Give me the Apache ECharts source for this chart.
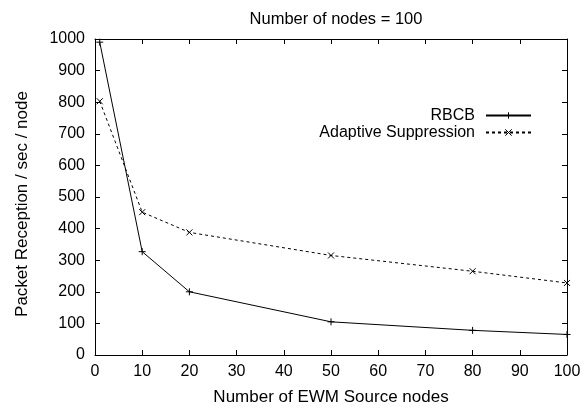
<!DOCTYPE html>
<html><head><meta charset="utf-8">
<script src="https://cdn.jsdelivr.net/npm/echarts@6/dist/echarts.min.js"></script>
<style>html,body{margin:0;padding:0;background:#fff}#c{width:584px;height:408px}</style>
</head><body><div id="c"></div>
<script>
const xValues = [1, 10, 20, 50, 80, 100];
const rbcb = [990, 327, 200, 105, 78, 65];
const adaptive = [803, 452, 388, 315, 265, 228];
const seriesNames = ['RBCB', 'Adaptive Suppression'];
const titleText = 'Number of nodes = 100';
const xName = 'Number of EWM Source nodes';
const yName = 'Packet Reception / sec / node';

const font = 'Liberation Sans, Arial, sans-serif';
const plus = 'path://M0,5L10,5M5,0L5,10';
const cross = 'path://M0,0L10,10M10,0L0,10';
const chart = echarts.init(document.getElementById('c'));
const axisCommon = {
  axisLine: {show: true, onZero: false, lineStyle: {color: '#000', width: 1}},
  axisTick: {show: true, inside: true, length: 5, lineStyle: {color: '#000'}},
  splitLine: {show: false}
};
chart.setOption({
  animation: false,
  title: {text: titleText, left: 331, top: 6, textAlign: 'center',
    textStyle: {fontFamily: font, fontSize: 16.5, fontWeight: 'normal', color: '#000'}},
  grid: {left: 95, right: 17, top: 39, bottom: 53, containLabel: false, outerBoundsMode: 'none'},
  legend: {
    orient: 'vertical', right: 52, top: 107, align: 'right', itemGap: 0, padding: 0,
    itemWidth: 45, itemHeight: 8,
    itemStyle: {borderWidth: 1},
    textStyle: {fontFamily: font, fontSize: 16, color: '#000', lineHeight: 17, padding: [0, 6, 0, 0]},
    data: seriesNames
  },
  xAxis: [
    Object.assign({type: 'value', min: 0, max: 100, interval: 10,
      name: xName, nameLocation: 'middle', nameGap: 34,
      nameTextStyle: {fontFamily: font, fontSize: 17, color: '#000'},
      axisLabel: {fontFamily: font, fontSize: 16, color: '#000', margin: 9, formatter: v => String(v)}}, axisCommon),
    Object.assign({type: 'value', min: 0, max: 100, interval: 10, position: 'top',
      axisLabel: {show: false}}, axisCommon)
  ],
  yAxis: [
    Object.assign({type: 'value', min: 0, max: 1000, interval: 100,
      name: yName, nameLocation: 'middle', nameGap: 64,
      nameTextStyle: {fontFamily: font, fontSize: 17, color: '#000', padding: [0, 14, 0, 0]},
      axisLabel: {fontFamily: font, fontSize: 16, color: '#000', margin: 10, formatter: v => String(v)}}, axisCommon),
    Object.assign({type: 'value', min: 0, max: 1000, interval: 100, position: 'right',
      axisLabel: {show: false}}, axisCommon)
  ],
  series: [
    {name: seriesNames[0], type: 'line', data: xValues.map((x, i) => [x, rbcb[i]]),
      symbol: plus, symbolSize: 7, showAllSymbol: true,
      lineStyle: {color: '#000', width: 1},
      itemStyle: {color: 'none', borderColor: '#000', borderWidth: 1}},
    {name: seriesNames[1], type: 'line', data: xValues.map((x, i) => [x, adaptive[i]]),
      symbol: cross, symbolSize: 6, showAllSymbol: true,
      lineStyle: {color: '#000', width: 1, type: [3, 3]},
      itemStyle: {color: 'none', borderColor: '#000', borderWidth: 1}}
  ]
});
</script></body></html>
